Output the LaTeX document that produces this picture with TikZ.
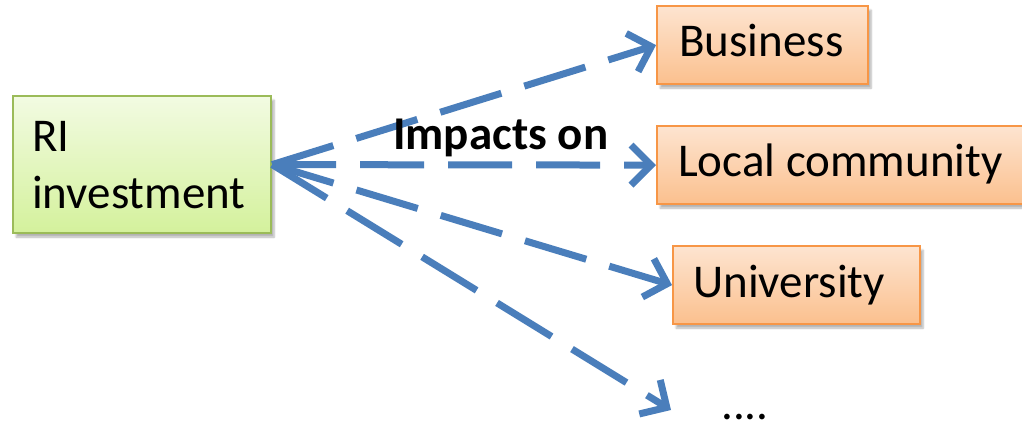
\documentclass[tikz,border=0pt]{standalone}
\usepackage{fontspec}
\setmainfont{Carlito}
\usetikzlibrary{arrows.meta,shadows.blur}
\definecolor{linkblue}{RGB}{74,126,187}
\definecolor{gtop}{RGB}{242,251,226}
\definecolor{gbot}{RGB}{212,241,156}
\definecolor{gedge}{RGB}{155,187,89}
\definecolor{otop}{RGB}{253,228,208}
\definecolor{obot}{RGB}{251,192,142}
\definecolor{oedge}{RGB}{247,150,70}
\tikzset{
  box/.style={rectangle, anchor=north west, inner sep=0pt, line width=2.2pt,
    blur shadow={shadow xshift=3pt, shadow yshift=-4pt, shadow opacity=30, shadow blur steps=6}},
  greenbox/.style={box, draw=gedge, top color=gtop, bottom color=gbot},
  orangebox/.style={box, draw=oedge, top color=otop, bottom color=obot},
  txt/.style={anchor=base west, inner sep=0pt, font=\fontsize{47}{56}\selectfont},
  conn/.style={draw=linkblue, line width=7pt, dash pattern=on 64pt off 24pt,
    -{Straight Barb[length=20pt,width=40pt]}}
}
\begin{document}
\begin{tikzpicture}[x=1pt,y=-1pt]
\useasboundingbox (0,0) rectangle (1022,422);
\node[greenbox, minimum width=258pt, minimum height=137pt] (ri) at (12,95) {};
\node[txt] (rit1) at (32,152) {RI};
\node[txt] (rit2) at (32,208) {investment};
\node[orangebox, minimum width=211pt, minimum height=78pt] (biz) at (656,5) {};
\node[txt] (biztxt) at (679,57) {Business};
\node[orangebox, minimum width=380pt, minimum height=78pt] (loc) at (656,125) {};
\node[txt] (loctxt) at (678,177) {Local community};
\node[orangebox, minimum width=247pt, minimum height=78pt] (uni) at (672,245) {};
\node[txt] (unitxt) at (693,297) {University};
\node[txt] (dots) at (721,419) {....};
\coordinate (dotend) at (671,410);
\draw[conn] (ri.east) -- (biz.west);
\draw[conn] (ri.east) -- (loc.west);
\draw[conn] (ri.east) -- (uni.west);
\draw[conn] (ri.east) -- (dotend);
\node[txt, font=\fontsize{47}{56}\selectfont\bfseries] (imp) at (393,150) {Impacts on};
\end{tikzpicture}
\end{document}
